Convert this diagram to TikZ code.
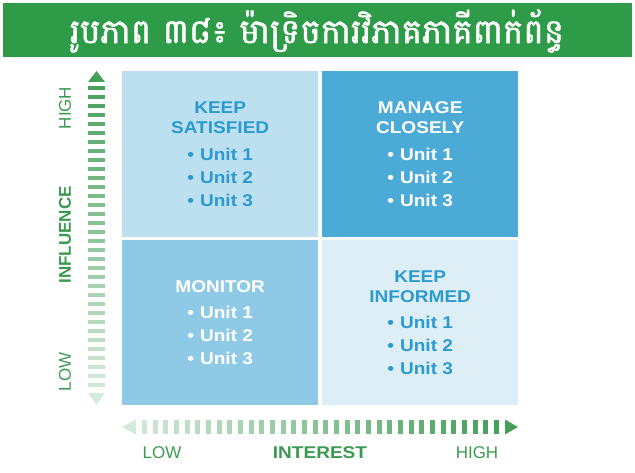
\documentclass[tikz,border=0pt]{standalone}
\usepackage{fontspec}
\setmainfont{Liberation Sans}
\newfontfamily\widebf[FakeStretch=1.12]{Liberation Sans Bold}
\newfontfamily\khmerfont[Script=Khmer, FakeBold=1.3]{Battambang}
\definecolor{bannergreen}{HTML}{2E9B48}
\definecolor{axisgreen}{HTML}{3A9A50}
\definecolor{txtblue}{HTML}{2B9AD1}
\definecolor{qlight}{HTML}{BDE0F0}
\definecolor{qdark}{HTML}{4BAAD6}
\definecolor{qmid}{HTML}{8ECAE6}
\definecolor{qpale}{HTML}{DDEEF7}
\newcommand{\unitline}[1]{•\hspace{6pt}Unit #1}
\begin{document}
\begin{tikzpicture}[
    x=1pt, y=1pt,
    quad/.style={anchor=north west, inner sep=0pt, minimum width=196pt,
                 align=center, font=\widebf\fontsize{17}{20}\selectfont},
    axlbl/.style={font=\fontsize{17}{20}\selectfont, text=axisgreen, inner sep=0pt},
    axbold/.style={axlbl, font=\widebf\fontsize{17}{20}\selectfont},
]
\useasboundingbox (0,0) rectangle (635,472);
% ── Banner ──
\fill[bannergreen] (3,415) rectangle (632,469);
\node[text=white, font=\khmerfont\fontsize{34}{38}\selectfont] (title) at (317,441)
    {រូបភាព ៣៨៖ ម៉ាទ្រិចការវិភាគភាគីពាក់ព័ន្ធ};

% ── Quadrants ──
\node[quad, fill=qlight, text=txtblue, minimum height=166pt] (keepsat) at (122,401)
    {KEEP\\SATISFIED\\[6.5pt]\unitline{1}\\[3pt]\unitline{2}\\[3pt]\unitline{3}};
\node[quad, fill=qdark, text=white, minimum height=166pt] (manage) at (322,401)
    {MANAGE\\CLOSELY\\[6.5pt]\unitline{1}\\[3pt]\unitline{2}\\[3pt]\unitline{3}};
\node[quad, fill=qmid, text=white, minimum height=165pt] (monitor) at (122,232)
    {MONITOR\\[6.5pt]\unitline{1}\\[3pt]\unitline{2}\\[3pt]\unitline{3}};
\node[quad, fill=qpale, text=txtblue, minimum height=165pt] (keepinf) at (322,232)
    {KEEP\\INFORMED\\[6.5pt]\unitline{1}\\[3pt]\unitline{2}\\[3pt]\unitline{3}};

% ── Influence axis (dark at top, fading down) ──
\fill[axisgreen!95!white] (96.5,401) -- (88,390) -- (105,390) -- cycle;
\foreach \i in {0,...,33} {
    \pgfmathsetmacro\shade{92-\i*2.1}
    \fill[axisgreen!\shade!white] (88,{384-9*\i-2}) rectangle (105,{384-9*\i+2});
}
\fill[axisgreen!20!white] (96.5,67) -- (88,79) -- (105,79) -- cycle;
\node[axlbl, rotate=90] (inflhigh) at (65,364) {HIGH};
\node[axlbl, rotate=90, font=\bfseries\fontsize{17}{20}\selectfont] (infl) at (65,237) {INFLUENCE};
\node[axlbl, rotate=90] (infllow) at (65,100) {LOW};

% ── Interest axis (light at left, darker to the right) ──
\fill[axisgreen!20!white] (122,45) -- (136,52.5) -- (136,37.5) -- cycle;
\foreach \i in {0,...,33} {
    \pgfmathsetmacro\shade{25+\i*2.1}
    \fill[axisgreen!\shade!white] ({142+10.67*\i},38) rectangle ({142+10.67*\i+5},52);
}
\fill[axisgreen!95!white] (518,45) -- (505,52.5) -- (505,37.5) -- cycle;
\node[axlbl] (intlow) at (162,19) {LOW};
\node[axbold] (interest) at (320,19) {INTEREST};
\node[axlbl] (inthigh) at (477,19) {HIGH};
\end{tikzpicture}
\end{document}
